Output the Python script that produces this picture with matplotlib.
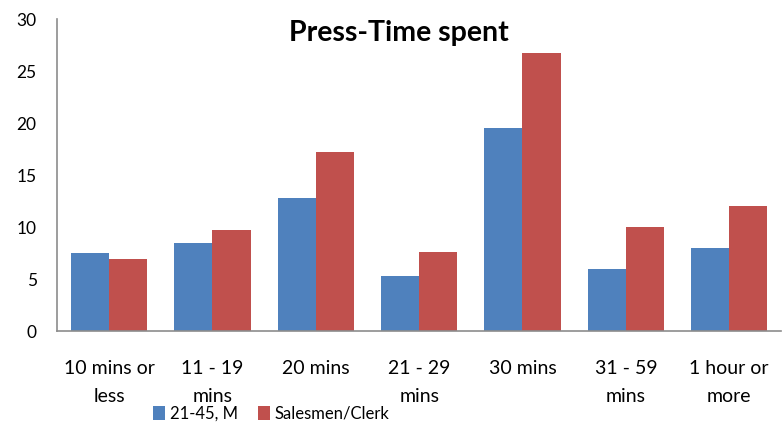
import matplotlib
matplotlib.use("Agg")
import matplotlib.pyplot as plt
import numpy as np

categories = ["10 mins or\nless", "11 - 19\nmins", "20 mins", "21 - 29\nmins",
              "30 mins", "31 - 59\nmins", "1 hour or\nmore"]
series_names = ["21-45, M", "Salesmen/Clerk"]
age_21_45_m = [7.5, 8.5, 12.8, 5.3, 19.5, 6.0, 8.0]
salesmen_clerk = [6.9, 9.7, 17.2, 7.6, 26.7, 10.0, 12.0]
yticks = [0, 5, 10, 15, 20, 25, 30]
colors = ["#4F81BD", "#C0504D"]

fam = ["Lato", "DejaVu Sans"]

fig = plt.figure(figsize=(7.82, 4.24), dpi=100)
ax = fig.add_axes([0.0735, 0.219, 0.925, 0.736])

x = np.arange(len(categories))
w = 0.37
ax.bar(x - w / 2, age_21_45_m, width=w, color=colors[0], label=series_names[0])
ax.bar(x + w / 2, salesmen_clerk, width=w, color=colors[1], label=series_names[1])

ax.set_xlim(-0.5, len(categories) - 0.5)
ax.set_ylim(0, 30)
ax.set_yticks(yticks)
ax.set_yticklabels([str(t) for t in yticks], family=fam, fontsize=12.5)
ax.set_xticks(x)
ax.set_xticklabels(categories, family=fam, fontsize=14, linespacing=1.75)
ax.tick_params(axis="both", length=0)
ax.tick_params(axis="y", pad=15)
ax.tick_params(axis="x", pad=21)

for s in ["top", "right"]:
    ax.spines[s].set_visible(False)
for s in ["left", "bottom"]:
    ax.spines[s].set_color("#8c8c8c")
    ax.spines[s].set_linewidth(1.2)

fig.text(0.51, 0.922, "Press-Time spent", ha="center", va="center",
         fontsize=20.5, fontweight="bold", family=fam)

leg = fig.legend(loc="lower center", bbox_to_anchor=(0.347, -0.022), ncol=2, frameon=False,
                 prop={"family": fam, "size": 12}, handlelength=0.7, handleheight=0.9,
                 handletextpad=0.3, columnspacing=1.2, borderaxespad=0.3)

fig.savefig("out.png", dpi=100)
